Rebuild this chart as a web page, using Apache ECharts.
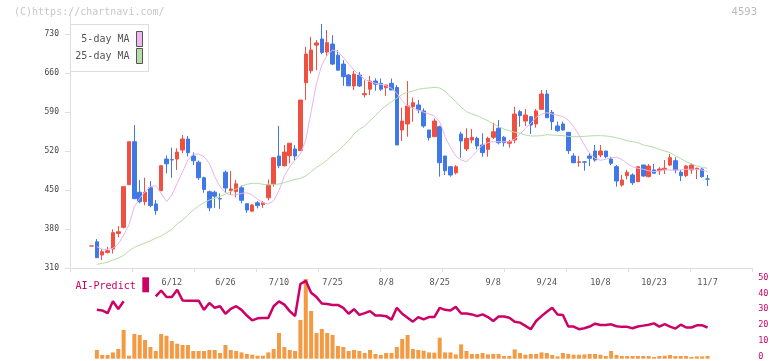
<!DOCTYPE html>
<html><head><meta charset="utf-8">
<script src="https://cdn.jsdelivr.net/npm/echarts@6/dist/echarts.min.js"></script>
<style>html,body{margin:0;padding:0;background:#fff}#c{width:772px;height:361px}</style>
</head><body><div id="c"></div>
<script>
// ---- data ----
const opens = [
349.5,357,333.3,338,344,372,383,459.5,536.7,446,
429,454,425,448.7,505.6,504.5,505.6,521.8,541.5,511,
500,472,447,446,434.5,482,449,447,454,425.4,
412,427,424,436,461,511,493.6,511.6,523.6,520.7,
642.6,664,710,721,697.7,712,692,676,656.4,636.7,
656.4,621,631,645.6,641.5,633.6,641.5,634,557.7,568.5,
599.5,602.6,591.8,557.7,545.7,563.6,511,491.8,481,550.5,
523.6,539.7,542.7,530.8,523,544.6,560.8,544.6,533.8,539.7,
590.6,573.8,581.6,568.5,594.8,622.3,589.5,564.9,568.5,553.6,
511,499.5,500.5,511,520,512.8,520,505.6,491.8,459,
475.7,477,464.9,494.9,473.9,486,484.6,487,494.8,502.6,
481.8,475.7,486,487.7,487.7,469.8];
const closes = [
349.5,328.5,339.3,341,373.4,375,456,536.7,434.4,429,
446,422,413,493.6,497,504,518,541.5,517,502.5,
472,451,418,439,434,453.6,451.8,461,431.5,414,
423,422,427,459,508,493.6,518,534,511,611.5,
694,701.3,714,697,714.4,676,665,653.4,637,658,
636.7,623,645.6,640,631,638.5,629.5,530.8,573.8,600.8,
606.7,593.6,564.9,544,573.8,499,484.6,477,491.8,538,
542.7,544.6,529,517,542.7,554.6,534.9,534.9,536.7,586.4,
583.4,584.6,566.6,591.8,622.3,579.7,572.6,556.4,557.7,520.6,
499,500.5,500,506.9,503.8,520,509.8,497.9,466.2,468,
481.8,463,491.8,475.1,493,480,487.7,489,508,486,
475.7,493,494.8,489,473.9,469.5];
const lows = [
349.5,328,324.4,336,336,365,381,459.5,434,426,
422.6,419,405.7,448.7,480,472,486,516,510,495,
468,445,412,418,416,445,441,437,426,409,
411,417,418,431.5,456,489,492,497.7,502.6,520,
611.5,659,665,693.5,690.5,674,665,637,637,629.5,
635,616,620.5,628,628,618.7,629.5,530.8,538,545.7,
572.6,587.7,561.8,538.5,545.7,473.9,477,473.9,478,507.9,
520,533.8,523,509.7,509.7,541.5,532,528,526,533.8,
563.6,564.9,550.5,561.8,593.6,579.7,557.7,554.6,556.4,514.6,
497.9,491.8,484.6,493,500.8,508.7,507,494.8,456,456,
469,459,464.9,474,472.8,480,477,478.7,493,480,
466,473,479,469.7,472,457];
const highs = [
349.5,362,344,348,379.5,385,456,536.7,566.7,468,
472,466,432,493.6,512,526,525,548.7,547,517.6,
503,474,449,449,444,485,484,468,457.7,425.4,
425,430,430,469,508,564.9,530.8,534,530.8,611.5,
707,725,719,748,737,728,701,683,658,664,
662,647,654.6,650.5,650,638.5,650,638.5,597.7,645.6,
615.7,611.5,596.6,557.7,578.5,565.4,511,493,494.6,554.6,
560.8,559.5,545.7,551.8,545.7,570.8,575.6,547,540,599.5,
593.6,595.4,582.8,595.4,629.5,629.5,593.6,572.6,572.6,553.6,
515.9,511,501.5,515.9,530.8,530.8,520,509.8,494.8,477,
486,480,491.8,494.9,496.7,496.7,490.8,503.8,514.6,508.7,
486,494.8,497.9,490,490,477];
const ma5 = [
null,348.3,343.5,343.5,345.3,353,369.2,387.2,420,435,
447,456,457.7,444,429,441,462,482.8,503.8,514.6,
514.6,509.8,497.9,473.9,456,445,441,441,444,445,
441,433.3,427.3,424.9,430.8,448.8,475.1,491.8,503.8,514.6,
539.7,590.6,641.5,674.4,692.3,701.3,698.3,688.2,676.2,665.4,
656.4,648.7,644.4,641.5,639.7,637.3,632.5,623.6,610.3,600.8,
596.6,593.6,589.5,586.4,582.8,572.6,545.7,526.6,511,503.8,
500.8,509.8,520.6,530.8,535,536.7,536.7,536.7,536.7,541.5,
550.5,560.7,569.7,580.5,585.9,588.8,586.4,584,581.6,575.6,
563.6,548.7,530.8,515.9,506.9,503.3,505.1,508,508.7,505,
497.9,491.8,488.9,487.2,484.6,482.8,484.1,485.9,485.9,485.9,
485.9,487.2,487.2,487.2,485.9,482.8];
const ma25 = [
null,316.6,318.4,320.2,324.4,327.9,332.7,341.1,347.1,351.3,
354.9,359,363.3,367.4,373.4,379.4,389,396.2,405.1,414.1,
421.3,427.3,432,435,438,442.8,447,451.8,457.2,460.2,
462,462,460.2,459,459.6,460.8,463.2,466.2,469.2,471,
475.1,482.8,490.7,496.7,503.8,512.8,520,529,538.5,550.5,
559,564.9,574.4,583.4,593.6,601.3,608.5,614.6,621.7,625.3,
627.7,630.7,632.5,633.1,634.3,633.1,627.7,617.5,608.5,598.4,
590.6,586.4,583.4,578.7,574.4,568.5,563.6,559.5,556.4,553.6,
551.8,548.7,547,547,547.5,549.3,548.7,548.1,547.5,546.3,
545.7,545.7,546.3,547,547.5,547.5,547,545.7,543.9,541.5,
538.5,536.7,535,530.8,529,526.6,523,520,517,511,
506.2,500.8,496.7,493.1,490.7,489];
const volume = [
null,8.7,3.7,3.7,6.3,9.7,28.7,3,24.7,23.7,
18.7,11.7,7.7,24.7,23,17.7,15,13.7,13.7,7.7,
7.7,7.7,8.7,8.7,5.7,13.7,8.7,7.7,6.3,4.7,
4,3,3,6.3,9.7,25.7,11.7,8.7,7.7,38.7,
79.7,47.7,25.7,29.7,25.7,23.7,12.7,11.7,7.7,8.7,
7.7,5.7,8.7,4.7,3.7,5.7,5.7,11.7,19.7,23.7,
9.7,8.7,8,6.3,6,21,6.3,6.3,4.3,14.3,
7.7,4.7,4.7,5.7,4.3,4.7,4.7,2.7,2.7,9.3,
5.7,4,4.7,4.7,6.3,5.7,3.7,2.3,5.7,4.7,
4,4,4.3,4.7,4.7,4,2.7,7.7,3.7,2.7,
2.7,2.7,2.7,2.7,2.7,1.7,2.7,3,3.7,2.7,
2.7,2.7,1.7,2.3,2.3,2.7];
const aiPredict = [
null,29.6,29.2,27.5,35,30.2,35,null,null,null,
null,null,38.1,41.9,37.7,37.7,42.3,35.6,35.4,35.4,
35.4,29.6,34,30.9,31.9,27.1,30.2,31.9,29.6,26,
22.9,24.2,24.5,24.5,31.9,35,32.9,28.8,25.6,46,
48,40.5,37.7,33.6,33.3,32.7,32.7,30.9,27.1,30,
26.4,27.5,28.8,26,26,25.6,23.4,30.9,27.1,24.6,
22.1,25,23.6,25,25,30.9,29.6,29.2,31.5,27.3,
27.3,26.7,25.6,26.7,25,22.5,25.4,25.4,24.6,22.1,
21.5,19.4,17.3,22.5,25.6,28.4,30.9,26.7,26.3,19,
19,17.3,17.9,19,20.8,20,20,20.4,19.2,18.8,
18.8,17.9,19,19.6,20.2,21,19,20.6,19,17.7,
20.2,18.4,18.4,19.8,19.8,18.4];
const dateLabels   = ['6/12','6/26','7/10','7/25','8/8','8/25','9/8','9/24','10/8','10/23','11/7'];
const dateLabelIdx = [15,25,35,45,55,65,75,85,95,105,115];
const priceTicks = [310,380,450,520,590,660,730];
const aiTicks = [0,10,20,30,40,50];

// ---- build ----
const N = opens.length;
const categories = [];
for (let i = 0; i < N; i++) {
  const p = dateLabelIdx.indexOf(i);
  categories.push(p >= 0 ? dateLabels[p] : String(i));
}
const candleData = opens.map((o, i) => [o, closes[i], lows[i], highs[i]]);

const STEP = 5.357, FIRST = 91.5;
const cLeft = FIRST - STEP / 2, cWidth = STEP * N;
const pTop = 14.5, pH = 253.5;
const MONO = '"DejaVu Sans Mono", monospace';

const chart = echarts.init(document.getElementById('c'), null, {renderer: 'canvas'});
chart.setOption({
  animation: false,
  backgroundColor: '#fff',
  grid: [
    {left: cLeft, width: cWidth, top: pTop, height: pH},
    {left: 70, width: 682, top: pTop, height: pH},
    {left: cLeft, width: cWidth, top: 277.7, height: 80},
    {left: cLeft, width: cWidth, top: 278.7, height: 80}
  ],
  xAxis: [
    {type: 'category', gridIndex: 0, data: categories, boundaryGap: true,
     axisLine: {show: false}, axisTick: {show: false}, splitLine: {show: false},
     axisLabel: {interval: (i) => dateLabelIdx.indexOf(i) >= 0, margin: 10,
       color: '#555', fontFamily: MONO, fontSize: 8.5}},
    {type: 'value', gridIndex: 1, min: 0, max: 11, interval: 1,
     axisLine: {show: true, lineStyle: {color: '#dedede', width: 1}},
     axisTick: {show: true, length: 4, inside: false, lineStyle: {color: '#dedede'}},
     axisLabel: {show: false}, splitLine: {show: false}},
    {type: 'category', gridIndex: 2, data: categories, boundaryGap: true, show: false},
    {type: 'category', gridIndex: 3, data: categories, boundaryGap: true, show: false}
  ],
  yAxis: [
    {type: 'value', gridIndex: 0, min: 310, max: 765, show: false},
    {type: 'value', gridIndex: 1, min: 310, max: 765, position: 'left',
     axisLine: {show: true, lineStyle: {color: '#dedede'}},
     axisTick: {show: true, length: 5, customValues: priceTicks, lineStyle: {color: '#dedede'}},
     axisLabel: {customValues: priceTicks, margin: 11, color: '#444', fontFamily: MONO, fontSize: 8},
     splitLine: {show: false}},
    {type: 'value', gridIndex: 2, min: 0, max: 50, position: 'right', offset: 40,
     axisLine: {show: false}, axisTick: {show: false}, splitLine: {show: false},
     axisLabel: {customValues: aiTicks, margin: 8, color: '#CC0066', fontFamily: MONO, fontSize: 8.5}},
    {type: 'value', gridIndex: 3, min: 0, max: 80, show: false}
  ],
  series: [
    {type: 'candlestick', xAxisIndex: 0, yAxisIndex: 0, data: candleData, barWidth: 4,
     itemStyle: {color: '#F05040', color0: '#4078E8', borderColor: '#F05040', borderColor0: '#4078E8', borderWidth: 1}},
    {type: 'line', name: '5-day MA', xAxisIndex: 0, yAxisIndex: 0, data: ma5, symbol: 'none',
     lineStyle: {color: '#E8B4EC', width: 1}, z: 3},
    {type: 'line', name: '25-day MA', xAxisIndex: 0, yAxisIndex: 0, data: ma25, symbol: 'none',
     lineStyle: {color: '#B4DCA4', width: 1}, z: 3},
    {type: 'bar', xAxisIndex: 3, yAxisIndex: 3, data: volume, barWidth: 4,
     itemStyle: {color: '#F39A42'}, z: 1},
    {type: 'line', name: 'AI-Predict', xAxisIndex: 2, yAxisIndex: 2, data: aiPredict, symbol: 'none',
     connectNulls: false, lineStyle: {color: '#CC0066', width: 2.5}, z: 4}
  ],
  graphic: [
    {type: 'text', x: 14, y: 12.5, style: {text: '(C)https://chartnavi.com/', font: '10px ' + MONO, fill: '#c8c8c8', verticalAlign: 'middle'}},
    {type: 'text', x: 757, y: 12.5, style: {text: '4593', font: '10px "DejaVu Sans", sans-serif', fill: '#bbbbbb', align: 'right', verticalAlign: 'middle'}},
    {type: 'rect', shape: {x: 70.5, y: 24.5, width: 78, height: 47}, style: {fill: '#fff', stroke: '#dddddd', lineWidth: 1}, z: 10},
    {type: 'text', x: 129.5, y: 39.3, style: {text: '5-day MA', font: '10px ' + MONO, fill: '#555', align: 'right', verticalAlign: 'middle'}, z: 11},
    {type: 'text', x: 129.5, y: 56.7, style: {text: '25-day MA', font: '10px ' + MONO, fill: '#555', align: 'right', verticalAlign: 'middle'}, z: 11},
    {type: 'rect', shape: {x: 136.5, y: 31.5, width: 6, height: 15}, style: {fill: '#EEB8EE', stroke: '#555', lineWidth: 1}, z: 11},
    {type: 'rect', shape: {x: 136.5, y: 48.5, width: 6, height: 15}, style: {fill: '#B8DCAA', stroke: '#555', lineWidth: 1}, z: 11},
    {type: 'text', x: 75.5, y: 286, style: {text: 'AI-Predict', font: '10px ' + MONO, fill: '#CC0066', verticalAlign: 'middle'}, z: 11},
    {type: 'rect', shape: {x: 142.3, y: 277.3, width: 6.7, height: 15}, style: {fill: '#CC0066'}, z: 11}
  ]
});
</script></body></html>
